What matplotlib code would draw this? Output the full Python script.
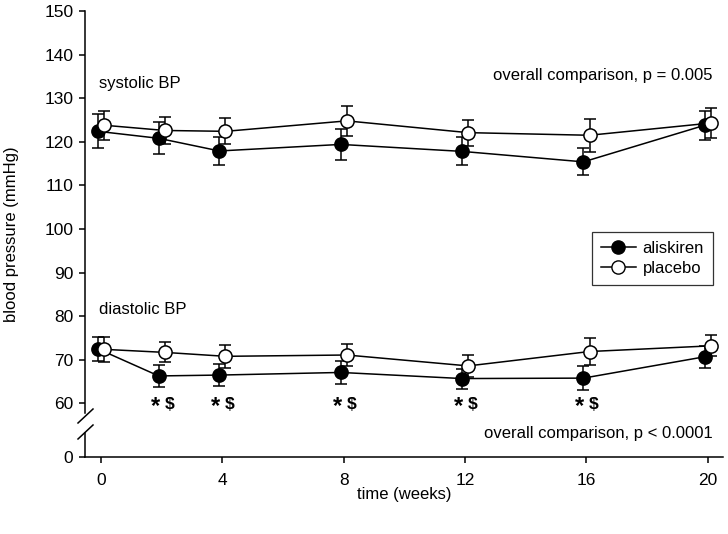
import matplotlib
matplotlib.use('Agg')
import matplotlib.pyplot as plt
from matplotlib.lines import Line2D

plt.rcParams['font.family'] = ['Liberation Sans', 'DejaVu Sans']
plt.rcParams['font.size'] = 12

# data (mean +/- error, mmHg)
weeks = [0, 2, 4, 8, 12, 16, 20]
sys_aliskiren = [122.4, 120.8, 117.9, 119.4, 117.8, 115.4, 123.8]
sys_aliskiren_err = [3.9, 3.7, 3.3, 3.5, 3.2, 3.1, 3.3]
sys_placebo = [123.8, 122.6, 122.4, 124.8, 122.1, 121.5, 124.3]
sys_placebo_err = [3.3, 3.1, 3.0, 3.4, 3.0, 3.8, 3.4]
dia_aliskiren = [72.5, 66.3, 66.5, 67.1, 65.7, 65.8, 70.7]
dia_aliskiren_err = [2.7, 2.5, 2.5, 2.6, 2.3, 2.7, 2.5]
dia_placebo = [72.4, 71.7, 70.8, 71.1, 68.6, 71.9, 73.2]
dia_placebo_err = [2.8, 2.3, 2.7, 2.5, 2.6, 3.0, 2.4]
sig_weeks = [2, 4, 8, 12, 16]
x_ticks = [0, 4, 8, 12, 16, 20]
y_ticks = [60, 70, 80, 90, 100, 110, 120, 130, 140, 150]

W, H = 728, 534
fig = plt.figure(figsize=(W / 100, H / 100), dpi=100)

def fx(px):
    return px / W

def fy(py):
    return 1 - py / H

left, right = 85, 723
ax = fig.add_axes([fx(left), fy(413), fx(right - left), fy(11) - fy(413)])
ax0 = fig.add_axes([fx(left), fy(457), fx(right - left), fy(433) - fy(457)])

lw = 1.1
tick_kw = dict(direction='out', length=4.3, width=lw, labelsize=12.5, pad=4)

# upper (main) axes
for s in ['top', 'right', 'bottom']:
    ax.spines[s].set_visible(False)
ax.spines['left'].set_linewidth(lw)
ax.set_xlim(-0.53, 20.5)
ax.set_ylim(57.8, 150)
ax.set_yticks(y_ticks)
ax.set_xticks([])
ax.tick_params(axis='y', **tick_kw)

# lower axes holding 0 and the x axis
for s in ['top', 'right']:
    ax0.spines[s].set_visible(False)
ax0.spines['left'].set_linewidth(lw)
ax0.spines['bottom'].set_linewidth(lw)
ax0.set_xlim(-0.53, 20.5)
ax0.set_ylim(0, 5)
ax0.set_yticks([0])
ax0.set_xticks(x_ticks)
ax0.tick_params(axis='y', **tick_kw)
ax0.tick_params(axis='x', direction='out', length=4.3, width=lw, labelsize=12.5, pad=7)
ax0.patch.set_alpha(0)

off = 0.1
xa = [w - off for w in weeks]
xp = [w + off for w in weeks]
common = dict(color='black', lw=lw, capsize=4.3, capthick=lw, elinewidth=lw,
              markersize=9.5, markeredgewidth=1.1, markeredgecolor='black', clip_on=False)

for ya, ea, yp, ep in [(sys_aliskiren, sys_aliskiren_err, sys_placebo, sys_placebo_err),
                       (dia_aliskiren, dia_aliskiren_err, dia_placebo, dia_placebo_err)]:
    ax.errorbar(xa, ya, yerr=ea, fmt='-o', markerfacecolor='black', **common)
    ax.errorbar(xp, yp, yerr=ep, fmt='-o', markerfacecolor='white', **common)

# significance marks
for w in sig_weeks:
    ax.text(w - 0.22, 59.2, '*', ha='center', va='center', fontsize=17, fontweight='bold')
    ax.text(w + 0.25, 59.8, '$', ha='center', va='center', fontsize=12.5, fontweight='bold')

ax.text(-0.07, 133.4, 'systolic BP', ha='left', va='center', fontsize=12)
ax.text(-0.07, 81.5, 'diastolic BP', ha='left', va='center', fontsize=12)
ax.text(20.15, 135.1, 'overall comparison, p = 0.005', ha='right', va='center', fontsize=12)
ax.text(20.15, 53.2, 'overall comparison, p < 0.0001', ha='right', va='center', fontsize=12)

handles = [Line2D([], [], color='black', lw=lw, marker='o', markersize=9.5,
                  markerfacecolor='black', markeredgecolor='black'),
           Line2D([], [], color='black', lw=lw, marker='o', markersize=9.5,
                  markerfacecolor='white', markeredgecolor='black')]
leg = ax.legend(handles, ['aliskiren', 'placebo'], loc='upper right',
                bbox_to_anchor=((713 - left) / (right - left), (413 - 232) / 402),
                borderaxespad=0, fancybox=False, fontsize=12, handlelength=2.1,
                handletextpad=0.4, borderpad=0.55, labelspacing=0.3)
leg.get_frame().set_edgecolor('black')
leg.get_frame().set_linewidth(0.9)

# axis break marks
for y0 in [423, 439]:
    fig.add_artist(Line2D([fx(78), fx(93)], [fy(y0), fy(y0 - 14)], color='black', lw=lw))

fig.text(fx(12), fy(234), 'blood pressure (mmHg)', rotation=90, ha='center', va='center', fontsize=12)
fig.text(fx(404), fy(494), 'time (weeks)', ha='center', va='center', fontsize=12)

fig.savefig('out.png', dpi=100)
